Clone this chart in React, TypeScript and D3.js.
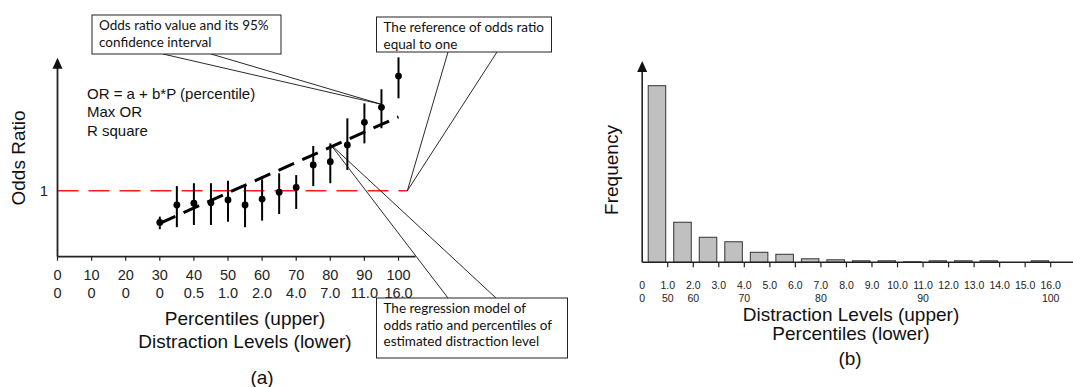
import React from "react";
import * as d3 from "d3";

// Panel (a): odds ratio of each percentile group with its 95% confidence interval
const percentiles = [30, 35, 40, 45, 50, 55, 60, 65, 70, 75, 80, 85, 90, 95, 100];
const oddsRatio = [0.856, 0.935, 0.943, 0.945, 0.958, 0.935, 0.962, 0.993, 1.015, 1.117, 1.132, 1.208, 1.311, 1.379, 1.521];
const ciLow = [0.825, 0.834, 0.844, 0.844, 0.859, 0.834, 0.864, 0.894, 0.917, 1.021, 1.034, 1.094, 1.215, 1.284, 1.42];
const ciHigh = [0.882, 1.021, 1.034, 1.034, 1.045, 1.026, 1.052, 1.079, 1.071, 1.203, 1.215, 1.329, 1.397, 1.461, 1.606];

// Fitted regression line OR = a + b*P, given by its two end points
const regressionP = [30, 100];
const regressionOR = [0.852, 1.336];

// Lower-row labels: distraction level matching each percentile tick
const percentileTicks = [0, 10, 20, 30, 40, 50, 60, 70, 80, 90, 100];
const levelAtPercentile = ["0", "0", "0", "0", "0.5", "1.0", "2.0", "4.0", "7.0", "11.0", "16.0"];

// Panel (b): frequency of each distraction level bin
const levelBins = [0, 1, 2, 3, 4, 5, 6, 7, 8, 9, 10, 11, 12, 13, 14, 15];
const frequency = [1058, 240, 150, 123, 60, 48, 21, 15, 9, 9, 3, 9, 9, 9, 0, 9];
const levelTicks = [0, 1, 2, 3, 4, 5, 6, 7, 8, 9, 10, 11, 12, 13, 14, 15, 16];
const levelTickLabels = ["0", "1.0", "2.0", "3.0", "4.0", "5.0", "6.0", "7.0", "8.0", "9.0", "10.0", "11.0", "12.0", "13.0", "14.0", "15.0", "16.0"];
const percentileMarkLevels = [0, 1, 2, 4, 7, 11, 16];
const percentileMarkLabels = ["0", "50", "60", "70", "80", "90", "100"];

const SANS = "'Liberation Sans', Arial, sans-serif";
const NOTE = "Lato, 'Open Sans', sans-serif";
const AXIS = "#222";

function Callout({ x, y, w, h, lines, anchors, target }) {
  const edgeY = target[1] > y ? y + h : y;
  return (
    <g>
      {anchors.map((ax, i) => (
        <line key={i} x1={ax} y1={edgeY} x2={target[0]} y2={target[1]} stroke="#111" strokeWidth={0.9} />
      ))}
      <rect x={x} y={y} width={w} height={h} fill="#fff" stroke="#222" strokeWidth={1} />
      {lines.map((t, i) => (
        <text key={i} x={x + 7} y={y + 15 + i * 16.5} fontFamily={NOTE} fontSize={13.5} fill="#111">
          {t}
        </text>
      ))}
    </g>
  );
}

function PanelA() {
  const x = d3.scaleLinear().domain([0, 100]).range([57.5, 398.5]);
  const y = d3.scaleLinear().domain([0.7, 1.6]).range([256.7, 58.7]);
  const x0 = x(0);
  const yBase = y(0.7);
  const line = d3.line<number>().x((_, i) => x(regressionP[i])).y((d) => y(d));
  const regAt = (p: number) =>
    regressionOR[0] + ((p - regressionP[0]) * (regressionOR[1] - regressionOR[0])) / (regressionP[1] - regressionP[0]);

  return (
    <g>
      {/* reference line OR = 1 */}
      <line x1={x0} x2={x(102.6)} y1={y(1)} y2={y(1)} stroke="#ff1a1a" strokeWidth={1.6} strokeDasharray="21 10" />
      {/* axes */}
      <line x1={x0} x2={x0} y1={yBase} y2={y(1.6) + 6} stroke={AXIS} strokeWidth={1.8} />
      <path d={`M${x0},${y(1.6) - 1} L${x0 - 5},${y(1.6) + 10} L${x0 + 5},${y(1.6) + 10} Z`} fill="#111" />
      <line x1={x0} x2={x(105)} y1={yBase} y2={yBase} stroke={AXIS} strokeWidth={1.8} />
      {percentileTicks.map((p) => (
        <line key={p} x1={x(p)} x2={x(p)} y1={yBase} y2={yBase + 4} stroke={AXIS} strokeWidth={1.2} />
      ))}
      {percentileTicks.map((p, i) => (
        <g key={"l" + p} fontFamily={SANS} fontSize={14.5} fill="#222" textAnchor="middle">
          <text x={x(p)} y={280}>{p}</text>
          <text x={x(p)} y={298}>{levelAtPercentile[i]}</text>
        </g>
      ))}
      <text x={44} y={y(1) + 5} fontFamily={SANS} fontSize={15} textAnchor="middle" fill="#222">1</text>
      <text transform={`translate(25,158) rotate(-90)`} fontFamily={SANS} fontSize={19} textAnchor="middle" fill="#111">Odds Ratio</text>

      {/* model notes */}
      <g fontFamily={SANS} fontSize={15} fill="#111">
        <text x={87} y={98.5}>OR = a + b*P (percentile)</text>
        <text x={87} y={117}>Max OR</text>
        <text x={87} y={135.5}>R square</text>
      </g>

      {/* regression line */}
      <path d={line(regressionOR) || ""} fill="none" stroke="#000" strokeWidth={3} strokeDasharray="17 9" />

      {/* confidence intervals and point estimates */}
      {percentiles.map((p, i) => (
        <g key={"e" + p}>
          <line x1={x(p)} x2={x(p)} y1={y(ciLow[i])} y2={y(ciHigh[i])} stroke="#000" strokeWidth={2} />
          <circle cx={x(p)} cy={y(oddsRatio[i])} r={3.4} fill="#000" />
        </g>
      ))}

      {/* axis titles */}
      <g fontFamily={SANS} fontSize={19} fill="#111" textAnchor="middle">
        <text x={245} y={325}>Percentiles (upper)</text>
        <text x={245} y={348}>Distraction Levels (lower)</text>
        <text x={262} y={384}>(a)</text>
      </g>

      {/* annotations */}
      <Callout x={92} y={15} w={189} h={39} lines={["Odds ratio value and its 95%", "confidence interval"]}
        anchors={[163, 211]} target={[x(95), y(oddsRatio[13]) - 3]} />
      <Callout x={376.5} y={17} w={175} h={35} lines={["The reference of odds ratio", "equal to one"]}
        anchors={[448, 497]} target={[x(102.6), y(1)]} />
      <Callout x={376.5} y={298} w={191} h={60}
        lines={["The regression model of", "odds ratio and percentiles of", "estimated distraction level"]}
        anchors={[448, 496]} target={[x(80), y(regAt(80)) - 3]} />
    </g>
  );
}

function PanelB() {
  const x = d3.scaleLinear().domain([0, 16]).range([642.2, 1050.7]);
  const y = d3.scaleLinear().domain([0, 1200]).range([262.3, 62]);
  const x0 = x(0);
  const yBase = y(0);
  return (
    <g>
      {levelBins.map((b, i) => (
        <rect key={b} x={x(b) + 6} width={x(b + 1) - x(b) - 8} y={y(frequency[i])} height={yBase - y(frequency[i])}
          fill="#c0c0c0" stroke="#333" strokeWidth={1} />
      ))}
      <line x1={x0} x2={1073} y1={yBase} y2={yBase} stroke={AXIS} strokeWidth={1.6} />
      <line x1={x0} x2={x0} y1={yBase} y2={y(1200) + 6} stroke={AXIS} strokeWidth={1.6} />
      <path d={`M${x0},${y(1200) - 1} L${x0 - 5},${y(1200) + 10} L${x0 + 5},${y(1200) + 10} Z`} fill="#111" />
      {levelTicks.slice(1).map((t) => (
        <line key={t} x1={x(t)} x2={x(t)} y1={yBase} y2={yBase + 5} stroke={AXIS} strokeWidth={1.2} />
      ))}
      <g fontFamily={SANS} fontSize={10.5} fill="#222" textAnchor="middle">
        {levelTicks.map((t, i) => (
          <text key={t} x={x(t)} y={288.5}>{levelTickLabels[i]}</text>
        ))}
        {percentileMarkLevels.map((t, i) => (
          <text key={"p" + t} x={x(t)} y={301.5}>{percentileMarkLabels[i]}</text>
        ))}
      </g>
      <text transform="translate(618,170) rotate(-90)" fontFamily={SANS} fontSize={19} textAnchor="middle" fill="#111">Frequency</text>
      <g fontFamily={SANS} fontSize={19} fill="#111" textAnchor="middle">
        <text x={851} y={321}>Distraction Levels (upper)</text>
        <text x={851} y={340}>Percentiles (lower)</text>
        <text x={850} y={364.5}>(b)</text>
      </g>
    </g>
  );
}

export default function App() {
  return (
    <svg width={1073} height={387} viewBox="0 0 1073 387"
      style={{ position: "absolute", left: 0, top: 0, display: "block", background: "#fff" }}>
      <rect width={1073} height={387} fill="#fff" />
      <PanelA />
      <PanelB />
    </svg>
  );
}
